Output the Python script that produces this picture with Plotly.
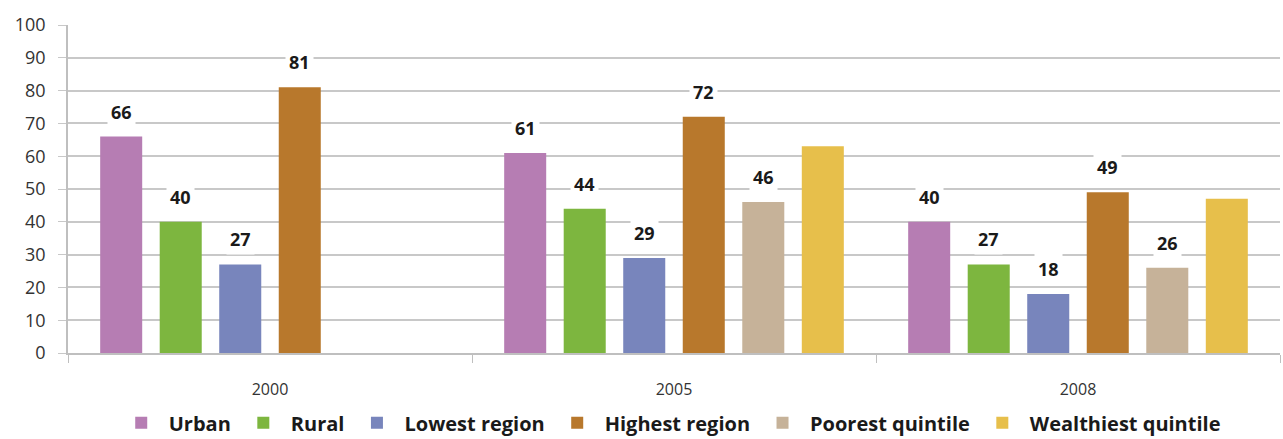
import plotly.graph_objects as go

years = ["2000", "2005", "2008"]
series_names = ["Urban", "Rural", "Lowest region", "Highest region", "Poorest quintile", "Wealthiest quintile"]
urban = [66, 61, 40]
rural = [40, 44, 27]
lowest_region = [27, 29, 18]
highest_region = [81, 72, 49]
poorest_quintile = [None, 46, 26]
wealthiest_quintile = [None, 63, 47]
show_labels = [True, True, True, True, True, False]
colors = ["#B67DB3", "#7DB63F", "#7885BC", "#B8782C", "#C6B299", "#E7BF4B"]

values = [urban, rural, lowest_region, highest_region, poorest_quintile, wealthiest_quintile]

W, H = 1283, 439
margin = dict(l=68, r=3, t=25, b=86, autoexpand=False)
bargap = 0.116
bargroupgap = 0.294
FONT = "Open Sans, DejaVu Sans, sans-serif"

fig = go.Figure()
for name, vals, col in zip(series_names, values, colors):
    fig.add_trace(go.Bar(x=years, y=vals, name=f"<b>{name}</b>", marker=dict(color=col, line=dict(width=0))))

plot_w = W - margin["l"] - margin["r"]
cat_w = plot_w / len(years)
slot = cat_w * (1 - bargap) / len(series_names)
annotations = []
for i, (vals, show) in enumerate(zip(values, show_labels)):
    if not show:
        continue
    for j, v in enumerate(vals):
        if v is None:
            continue
        annotations.append(dict(
            x=j, y=v, xref="x", yref="y", text=f"<b>{v}</b>", showarrow=False,
            xshift=(i - (len(series_names) - 1) / 2) * slot, yanchor="bottom", yshift=9,
            bgcolor="white", borderpad=3,
            font=dict(family=FONT, size=18, color="#1a1a1a"),
        ))

fig.update_layout(
    width=W, height=H, margin=margin,
    paper_bgcolor="white", plot_bgcolor="white",
    barmode="group", bargap=bargap, bargroupgap=bargroupgap,
    annotations=annotations,
    font=dict(family=FONT, color="#333333"),
    legend=dict(orientation="h", x=0.522, xanchor="center", xref="container",
                y=-0.213, yanchor="middle", yref="paper",
                font=dict(size=20, color="#1a1a1a"), traceorder="normal",
                itemwidth=45),
    showlegend=True,
)
fig.update_xaxes(type="category", categoryorder="array", categoryarray=years,
                 showgrid=False, showline=True, linecolor="#BFBFBF", linewidth=1.5,
                 ticks="outside", tickson="boundaries", ticklen=8, tickcolor="#BFBFBF",
                 ticklabelstandoff=21,
                 tickfont=dict(size=16, color="#333333"))
fig.update_yaxes(range=[0, 100], dtick=10, showgrid=True, gridcolor="#C8C8C8", gridwidth=1.5,
                 showline=True, linecolor="#BFBFBF", linewidth=1.5,
                 ticks="outside", ticklen=8, tickcolor="#C8C8C8", zeroline=False,
                 ticklabelstandoff=9,
                 tickfont=dict(size=18, color="#333333"))

fig.write_html("out.html")
